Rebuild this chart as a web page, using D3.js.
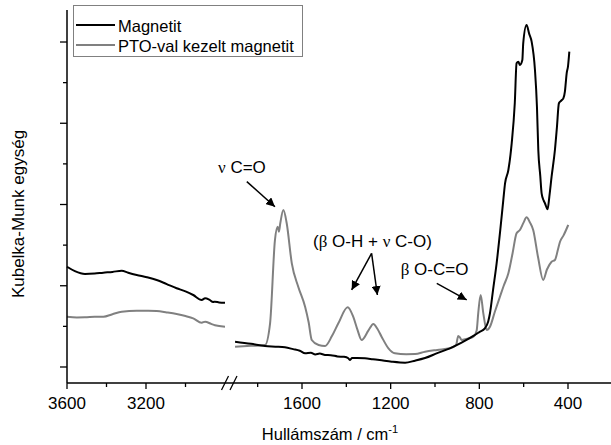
<!DOCTYPE html>
<html lang="hu">
<head>
<meta charset="utf-8">
<title>Kubelka-Munk spektrum</title>
<script src="https://d3js.org/d3.v7.min.js"></script>
<style>
  body { margin: 0; background: #fff; }
  text { font-family: "Liberation Sans", Arial, sans-serif; fill: #000; }
</style>
</head>
<body>
<script>
// [hullámszám, Kubelka-Munk (önkényes egység)]
var magLeft = [[3600,1.234],[3560,1.18],[3509,1.145],[3460,1.15],[3416,1.161],[3370,1.17],[3323,1.185],[3290,1.16],[3247,1.132],[3196,1.105],[3146,1.071],[3095,1.02],[3045,0.969],[3000,0.93],[2961,0.886],[2918,0.825],[2901,0.846],[2880,0.83],[2860,0.8],[2851,0.804],[2830,0.795],[2800,0.791]];
var ptoLeft = [[3600,0.619],[3550,0.61],[3509,0.612],[3460,0.617],[3416,0.619],[3370,0.65],[3323,0.681],[3247,0.693],[3196,0.692],[3146,0.689],[3095,0.672],[3045,0.652],[3000,0.627],[2961,0.599],[2918,0.545],[2901,0.558],[2870,0.53],[2851,0.513],[2800,0.496]];
var magRight = [[1902,0.311],[1830,0.285],[1767,0.258],[1720,0.25],[1677,0.242],[1640,0.22],[1610,0.2],[1586,0.169],[1560,0.175],[1540,0.155],[1520,0.165],[1496,0.148],[1470,0.145],[1440,0.13],[1410,0.125],[1391,0.107],[1383,0.086],[1375,0.11],[1350,0.112],[1316,0.107],[1280,0.095],[1250,0.085],[1195,0.065],[1135,0.053],[1090,0.078],[1045,0.11],[990,0.17],[933,0.23],[880,0.3],[827,0.382],[800,0.43],[775,0.476],[760,0.56],[752,0.661],[738,0.95],[722,1.276],[705,1.7],[692,2.05],[684,2.261],[669,2.425],[654,2.753],[640,3.25],[632,3.738],[624,3.758],[617,3.717],[606,3.778],[602,3.984],[587,4.209],[575,4.1],[564,4.004],[549,3.655],[540,3.2],[534,2.671],[525,2.35],[519,2.138],[510,2.05],[504,2.015],[492,1.941],[484,2.1],[474,2.342],[459,2.671],[450,2.95],[441,3.246],[430,3.28],[421,3.307],[414,3.388],[410,3.5],[406,3.615],[400,3.7],[394,3.881]];
var ptoRight = [[1902,0.25],[1830,0.26],[1767,0.271],[1744,0.538],[1722,1.563],[1710,1.727],[1704,1.665],[1698,1.769],[1684,1.932],[1669,1.769],[1646,1.276],[1617,0.988],[1586,0.742],[1570,0.55],[1556,0.332],[1525,0.27],[1496,0.258],[1465,0.38],[1436,0.538],[1394,0.735],[1369,0.619],[1350,0.46],[1331,0.332],[1300,0.45],[1278,0.529],[1260,0.47],[1241,0.373],[1210,0.23],[1181,0.169],[1130,0.158],[1090,0.16],[1045,0.188],[990,0.21],[933,0.23],[905,0.27],[895,0.382],[887,0.36],[880,0.332],[850,0.35],[827,0.373],[812,0.45],[805,0.661],[794,0.886],[782,0.661],[767,0.455],[752,0.496],[730,0.68],[707,0.865],[690,1.0],[669,1.153],[650,1.4],[632,1.646],[617,1.686],[600,1.78],[587,1.842],[572,1.78],[557,1.686],[535,1.35],[512,1.071],[495,1.2],[474,1.296],[459,1.317],[445,1.45],[436,1.542],[420,1.62],[399,1.748]];

var xTicksLeft = [3600, 3200];
var xMinorLeft = [3400, 3000];
var xTicksRight = [1600, 1200, 800, 400];
var xMinorRight = [1800, 1400, 1000, 600];
var yTicks = [0, 1, 2, 3, 4];
var yMinor = [0.5, 1.5, 2.5, 3.5];

var seriesNames = ["Magnetit", "PTO-val kezelt magnetit"];
var seriesColors = ["#000000", "#808080"];

var notes = [
  { text: ["ν", " C=O"], wn: 1871, y: 2.388, arrows: [[1849, 2.281, 1722, 1.973]] },
  { text: ["(", "β", " O-H + ", "ν", " C-O)"], wn: 1282, y: 1.477, arrows: [[1286, 1.399, 1376, 0.948], [1286, 1.399, 1260, 0.886]] },
  { text: ["β", " O-C=O"], wn: 1002, y: 1.132, arrows: [[992, 1.030, 857, 0.825]] }
];

var W = 611, H = 445;
var axisY = 383, axisX = 67;

var svg = d3.select("body").append("svg")
  .attr("width", W).attr("height", H);

var xl = d3.scaleLinear().domain([3600, 2800]).range([67, 225]);
var xr = d3.scaleLinear().domain([1900, 206]).range([235.5, 611]);
var y = d3.scaleLinear().domain([-0.197, 4.394]).range([383, 10]);

svg.append("defs").append("marker")
  .attr("id", "arr")
  .attr("viewBox", "0 0 10 10")
  .attr("refX", 10).attr("refY", 5)
  .attr("markerWidth", 9).attr("markerHeight", 9)
  .attr("markerUnits", "userSpaceOnUse")
  .attr("orient", "auto")
  .append("path")
  .attr("d", "M0,0 L10,5 L0,10 z")
  .attr("fill", "#000");

// curves
function lineFor(sx) {
  return d3.line()
    .x(function(d) { return sx(d[0]); })
    .y(function(d) { return y(d[1]); })
    .curve(d3.curveMonotoneX);
}
var curves = [
  [magLeft, xl, 0], [ptoLeft, xl, 1], [ptoRight, xr, 1], [magRight, xr, 0]
];
curves.forEach(function(c) {
  svg.append("path")
    .datum(c[0])
    .attr("d", lineFor(c[1]))
    .attr("fill", "none")
    .attr("stroke", seriesColors[c[2]])
    .attr("stroke-width", 2)
    .attr("stroke-linejoin", "round");
});

// axes
svg.append("line")
  .attr("x1", axisX).attr("x2", axisX)
  .attr("y1", 10).attr("y2", axisY)
  .attr("stroke", "#000").attr("stroke-width", 1.5);
svg.append("line")
  .attr("x1", axisX).attr("x2", W)
  .attr("y1", axisY).attr("y2", axisY)
  .attr("stroke", "#000").attr("stroke-width", 1.5);

// break marks
[0, 8.5].forEach(function(off) {
  svg.append("line")
    .attr("x1", 221.5 + off).attr("y1", 390)
    .attr("x2", 228.5 + off).attr("y2", 376)
    .attr("stroke", "#000").attr("stroke-width", 1.3);
});

function xTick(px, len) {
  svg.append("line")
    .attr("x1", px).attr("x2", px)
    .attr("y1", axisY).attr("y2", axisY + len)
    .attr("stroke", "#000").attr("stroke-width", 1.3);
}
xTicksLeft.forEach(function(v) { xTick(xl(v), 6); });
xMinorLeft.forEach(function(v) { xTick(xl(v), 4); });
xTicksRight.forEach(function(v) { xTick(xr(v), 6); });
xMinorRight.forEach(function(v) { xTick(xr(v), 4); });

svg.selectAll(".xlab-l").data(xTicksLeft).enter().append("text")
  .attr("x", function(d) { return xl(d); })
  .attr("y", 409)
  .attr("text-anchor", "middle")
  .attr("font-size", 17)
  .text(function(d) { return d; });
svg.selectAll(".xlab-r").data(xTicksRight).enter().append("text")
  .attr("x", function(d) { return xr(d); })
  .attr("y", 409)
  .attr("text-anchor", "middle")
  .attr("font-size", 17)
  .text(function(d) { return d; });

yTicks.forEach(function(v) {
  svg.append("line")
    .attr("x1", axisX - 7).attr("x2", axisX)
    .attr("y1", y(v)).attr("y2", y(v))
    .attr("stroke", "#000").attr("stroke-width", 1.3);
});
yMinor.forEach(function(v) {
  svg.append("line")
    .attr("x1", axisX - 4).attr("x2", axisX)
    .attr("y1", y(v)).attr("y2", y(v))
    .attr("stroke", "#000").attr("stroke-width", 1.3);
});

// axis titles
var xt = svg.append("text")
  .attr("x", 330).attr("y", 440)
  .attr("text-anchor", "middle")
  .attr("font-size", 16.5);
xt.append("tspan").text("Hullámszám / cm");
xt.append("tspan").attr("font-size", 11).attr("dy", -7).text("-1");

svg.append("text")
  .attr("transform", "translate(24,214) rotate(-90)")
  .attr("text-anchor", "middle")
  .attr("font-size", 17)
  .text("Kubelka-Munk egység");

// legend
svg.append("rect")
  .attr("x", 73.5).attr("y", 5.5)
  .attr("width", 229).attr("height", 51)
  .attr("fill", "#fff")
  .attr("stroke", "#808080").attr("stroke-width", 1);
seriesNames.forEach(function(name, i) {
  var ly = 25 + i * 20;
  svg.append("line")
    .attr("x1", 76).attr("x2", 115)
    .attr("y1", ly).attr("y2", ly)
    .attr("stroke", seriesColors[i]).attr("stroke-width", 2);
  svg.append("text")
    .attr("x", 118).attr("y", ly + 6.5)
    .attr("font-size", 16.5)
    .text(name);
});

// annotations
notes.forEach(function(n) {
  var t = svg.append("text")
    .attr("x", xr(n.wn)).attr("y", y(n.y))
    .attr("text-anchor", "middle")
    .attr("font-size", 17);
  n.text.forEach(function(s) {
    var sp = t.append("tspan").text(s);
    if (s === "ν" || s === "β") sp.attr("font-family", "'Liberation Serif', 'Times New Roman', serif");
  });
  n.arrows.forEach(function(a) {
    svg.append("line")
      .attr("x1", xr(a[0])).attr("y1", y(a[1]))
      .attr("x2", xr(a[2])).attr("y2", y(a[3]))
      .attr("stroke", "#000").attr("stroke-width", 1.5)
      .attr("marker-end", "url(#arr)");
  });
});
</script>
</body>
</html>
